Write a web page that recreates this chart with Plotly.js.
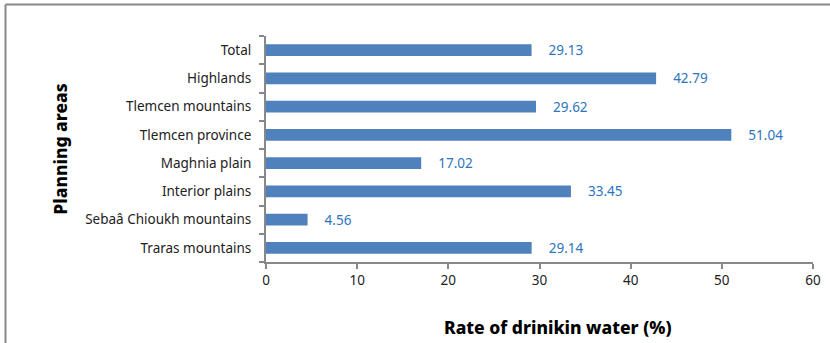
<!DOCTYPE html>
<html>
<head>
<meta charset="utf-8">
<script src="https://cdn.plot.ly/plotly-3.0.1.min.js"></script>
<style>html,body{margin:0;padding:0;background:#fff;}#chart{width:830px;height:343px;}</style>
</head>
<body>
<div id="chart"></div>
<script>
const categories = ["Traras mountains", "Sebaâ Chioukh mountains", "Interior plains", "Maghnia plain", "Tlemcen province", "Tlemcen mountains", "Highlands", "Total"];
const values = [29.14, 4.56, 33.45, 17.02, 51.04, 29.62, 42.79, 29.13];
const xTicks = [0, 10, 20, 30, 40, 50, 60];
const xTitle = "Rate of drinikin water (%)";
const yTitle = "Planning areas";

const FONT = "Noto Sans, Open Sans, sans-serif";
const trace = {
  type: "bar",
  orientation: "h",
  y: categories,
  x: values,
  marker: {color: "#4F81BD", line: {color: "#4F81BD", width: 0}},
  text: values.map(v => v.toFixed(2)),
  texttemplate: "    %{text}",
  textposition: "outside",
  constraintext: "none",
  cliponaxis: false,
  textfont: {family: FONT, size: 13.5, color: "#2E75C0"},
  hoverinfo: "x+y"
};

const L = 266, R = 813, T = 36, B = 262, W = 830, H = 343;
const px = x => (x - L) / (R - L);
const py = y => (B - y) / (B - T);

const layout = {
  width: W, height: H,
  margin: {l: L, r: W - R, t: T, b: H - B, pad: 0},
  paper_bgcolor: "#fff", plot_bgcolor: "#fff",
  font: {family: FONT, size: 13.5, color: "#222"},
  showlegend: false,
  bargap: 0.58,
  xaxis: {
    range: [0, 60], tickvals: xTicks, ticktext: xTicks.map(String),
    showgrid: false, zeroline: false,
    showline: true, linecolor: "#888", linewidth: 2,
    ticks: "outside", ticklen: 5, tickcolor: "#888", tickwidth: 2,
    tickfont: {family: FONT, size: 13.5, color: "#222"}
  },
  yaxis: {
    type: "category", categoryorder: "array", categoryarray: categories,
    showgrid: false, zeroline: false,
    showline: true, linecolor: "#888", linewidth: 2,
    ticks: "outside", ticklen: 5, tickcolor: "#888", tickwidth: 2, tickson: "boundaries",
    tickfont: {family: FONT, size: 13.5, color: "#222"},
    ticklabelstandoff: 10,
    title: {text: yTitle, font: {family: FONT, size: 17.5, color: "#000", weight: 800}, standoff: 13}
  },
  annotations: [
    {text: xTitle, xref: "paper", yref: "paper", x: px(558), y: py(327), xanchor: "center", yanchor: "middle",
     showarrow: false, font: {family: FONT, size: 17.5, color: "#000", weight: 800}}
  ],
  shapes: [
    {type: "line", xref: "paper", yref: "paper", x0: px(5.5), x1: px(830), y0: py(4.5), y1: py(4.5), line: {color: "#888", width: 2}},
    {type: "line", xref: "paper", yref: "paper", x0: px(5.5), x1: px(5.5), y0: py(4.5), y1: py(343), line: {color: "#888", width: 2}}
  ]
};

Plotly.newPlot("chart", [trace], layout, {displayModeBar: false, staticPlot: true});
</script>
</body>
</html>
